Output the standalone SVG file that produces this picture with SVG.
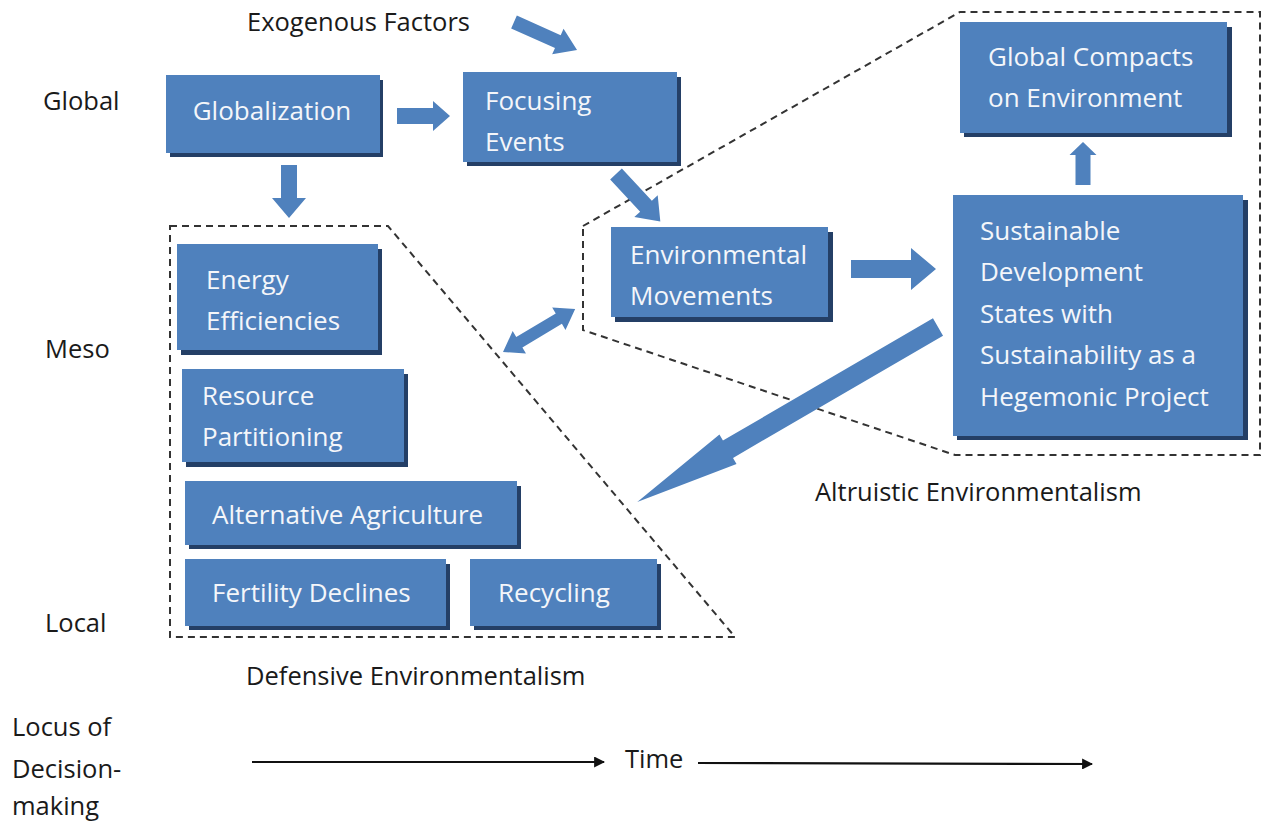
<svg xmlns="http://www.w3.org/2000/svg" width="1262" height="825" viewBox="0 0 1262 825">
  <defs>
    <style>
      .box { fill: #4f81bd; }
      .shadow { fill: #243f66; }
      .bt { font-family: "Open Sans", "Liberation Sans", sans-serif; font-size: 26px; fill: #f4f6fa; }
      .lbl { font-family: "Open Sans", "Liberation Sans", sans-serif; font-size: 25.5px; fill: #1a1a1a; }
      .blk { fill: #4f81bd; }
      .dash { fill: none; stroke: #333; stroke-width: 2; stroke-dasharray: 7 5; }
      .axis { stroke: #111; stroke-width: 2.2; fill: none; }
    </style>
    <marker id="ah" viewBox="0 0 10 10" refX="9" refY="5" markerWidth="5" markerHeight="5" orient="auto" markerUnits="strokeWidth">
      <path d="M0,0 L10,5 L0,10 z" fill="#111"/>
    </marker>
  </defs>

  <rect width="1262" height="825" fill="#ffffff"/>

  <!-- grouping outlines -->
  <g id="regions">
    <polygon class="dash" points="170,226 388,226 735,637 170,637"/>
    <polygon class="dash" points="583,226 960,12 1260,12 1260,455 955,455 583,330"/>
  </g>

  <!-- side and axis labels -->
  <g id="labels">
    <text class="lbl" x="43" y="110">Global</text>
    <text class="lbl" x="45" y="358">Meso</text>
    <text class="lbl" x="45" y="632">Local</text>
    <text class="lbl" x="247" y="31">Exogenous Factors</text>
    <text class="lbl" x="246" y="685">Defensive Environmentalism</text>
    <text class="lbl" x="815" y="501">Altruistic Environmentalism</text>
    <text class="lbl" x="12" y="736">Locus of</text>
    <text class="lbl" x="12" y="778">Decision-</text>
    <text class="lbl" x="12" y="815">making</text>
    <text class="lbl" x="625" y="768">Time</text>
  </g>

  <!-- nodes -->
  <g id="globalization">
    <rect class="shadow" x="170" y="80" width="213" height="77"/>
    <rect class="box" x="166" y="75" width="214" height="78"/>
    <text class="bt" x="272" y="120" text-anchor="middle">Globalization</text>
  </g>
  <g id="focusing-events">
    <rect class="shadow" x="467" y="77" width="214" height="89"/>
    <rect class="box" x="463" y="72" width="214" height="90"/>
    <text class="bt" x="485" y="110">Focusing</text>
    <text class="bt" x="485" y="151">Events</text>
  </g>
  <g id="global-compacts">
    <rect class="shadow" x="964" y="27" width="268" height="110"/>
    <rect class="box" x="960" y="22" width="267" height="111"/>
    <text class="bt" x="988" y="66">Global Compacts</text>
    <text class="bt" x="988" y="107">on Environment</text>
  </g>
  <g id="environmental-movements">
    <rect class="shadow" x="615" y="232" width="218" height="90"/>
    <rect class="box" x="611" y="227" width="217" height="90"/>
    <text class="bt" x="630" y="264">Environmental</text>
    <text class="bt" x="630" y="305">Movements</text>
  </g>
  <g id="sustainable-development">
    <rect class="shadow" x="957" y="200" width="291" height="240"/>
    <rect class="box" x="953" y="195" width="290" height="241"/>
    <text class="bt" x="980" y="240">Sustainable</text>
    <text class="bt" x="980" y="281">Development</text>
    <text class="bt" x="980" y="323">States with</text>
    <text class="bt" x="980" y="364">Sustainability as a</text>
    <text class="bt" x="980" y="406">Hegemonic Project</text>
  </g>
  <g id="energy-efficiencies">
    <rect class="shadow" x="181" y="249" width="201" height="106"/>
    <rect class="box" x="177" y="244" width="201" height="106"/>
    <text class="bt" x="206" y="289">Energy</text>
    <text class="bt" x="206" y="330">Efficiencies</text>
  </g>
  <g id="resource-partitioning">
    <rect class="shadow" x="186" y="374" width="222" height="93"/>
    <rect class="box" x="182" y="369" width="222" height="93"/>
    <text class="bt" x="202" y="405">Resource</text>
    <text class="bt" x="202" y="446">Partitioning</text>
  </g>
  <g id="alternative-agriculture">
    <rect class="shadow" x="189" y="486" width="332" height="63"/>
    <rect class="box" x="185" y="481" width="332" height="64"/>
    <text class="bt" x="212" y="524">Alternative Agriculture</text>
  </g>
  <g id="fertility-declines">
    <rect class="shadow" x="189" y="564" width="261" height="66"/>
    <rect class="box" x="185" y="559" width="261" height="67"/>
    <text class="bt" x="212" y="602">Fertility Declines</text>
  </g>
  <g id="recycling">
    <rect class="shadow" x="474" y="564" width="187" height="66"/>
    <rect class="box" x="470" y="559" width="187" height="67"/>
    <text class="bt" x="498" y="602">Recycling</text>
  </g>

  <!-- connectors: block arrows drawn along a local x-axis, then placed -->
  <g id="connectors">
    <polygon class="blk" transform="translate(397,116)" points="0,-8 36,-8 36,-15 53,0 36,15 36,8 0,8"/>
    <polygon class="blk" transform="translate(514,22) rotate(24)" points="0,-7 48,-7 48,-14 69,0 48,14 48,7 0,7"/>
    <polygon class="blk" transform="translate(289,165) rotate(90)" points="0,-8 33,-8 33,-17 53,0 33,17 33,8 0,8"/>
    <polygon class="blk" transform="translate(616,174) rotate(47)" points="0,-8 44,-8 44,-16 65,0 44,16 44,8 0,8"/>
    <polygon class="blk" transform="translate(851,269) rotate(0)" points="0,-9 60,-9 60,-21 85,0 60,21 60,9 0,9"/>
    <polygon class="blk" transform="translate(1083,185) rotate(-90)" points="0,-7.5 30,-7.5 30,-13.5 43,0 30,13.5 30,7.5 0,7.5"/>
    <polygon class="blk" transform="translate(503,352) rotate(-30.8)" points="0,0 19,-13 19,-6 65,-6 65,-13 84,0 65,13 65,6 19,6 19,13"/>
    <polygon class="blk" transform="translate(938,327) rotate(149.8)" points="0,-10 243,-10 243,-17 348,0 243,17 243,10 0,10"/>
    <line class="axis" x1="252" y1="762" x2="604" y2="762" marker-end="url(#ah)"/>
    <line class="axis" x1="698" y1="763" x2="1092" y2="764" marker-end="url(#ah)"/>
  </g>
</svg>
